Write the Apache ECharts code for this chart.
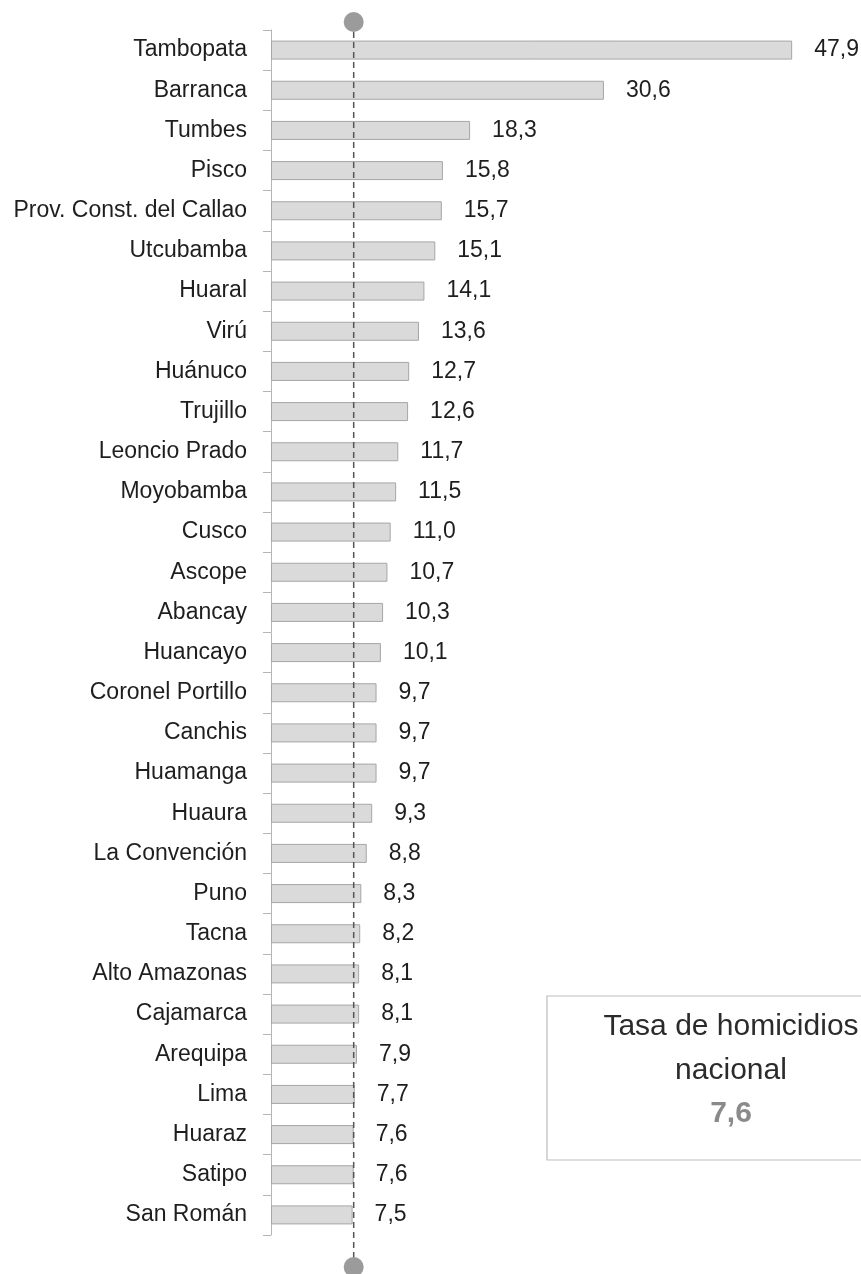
<!DOCTYPE html>
<html>
<head>
<meta charset="utf-8">
<script src="https://cdn.jsdelivr.net/npm/echarts@6/dist/echarts.min.js"></script>
<style>
  html, body { margin: 0; padding: 0; background: #fff; }
  #chart { width: 861px; height: 1274px; }
</style>
</head>
<body>
<div id="chart"></div>
<script>
// provincias, de arriba hacia abajo
const provincias = [
  'Tambopata', 'Barranca', 'Tumbes', 'Pisco', 'Prov. Const. del Callao',
  'Utcubamba', 'Huaral', 'Virú', 'Huánuco', 'Trujillo',
  'Leoncio Prado', 'Moyobamba', 'Cusco', 'Ascope', 'Abancay',
  'Huancayo', 'Coronel Portillo', 'Canchis', 'Huamanga', 'Huaura',
  'La Convención', 'Puno', 'Tacna', 'Alto Amazonas', 'Cajamarca',
  'Arequipa', 'Lima', 'Huaraz', 'Satipo', 'San Román'
]
const tasas = [
  47.9, 30.6, 18.3, 15.8, 15.7,
  15.1, 14.1, 13.6, 12.7, 12.6,
  11.7, 11.5, 11.0, 10.7, 10.3,
  10.1, 9.7, 9.7, 9.7, 9.3,
  8.8, 8.3, 8.2, 8.1, 8.1,
  7.9, 7.7, 7.6, 7.6, 7.5
]
const tasaNacional = 7.6
const tituloCaja = ['Tasa de homicidios', 'nacional']

const fmt = v => v.toFixed(1).replace('.', ',')
const fuente = '"Liberation Sans", Arial, sans-serif'

const chart = echarts.init(document.getElementById('chart'))

const option = {
  animation: false,
  grid: { left: 271, right: 46, top: 30, bottom: 39, outerBoundsMode: 'none', containLabel: false },
  xAxis: {
    type: 'value',
    min: 0,
    max: 50,
    show: false,
    splitLine: { show: false }
  },
  yAxis: {
    type: 'category',
    inverse: true,
    data: provincias,
    axisLine: { show: true, lineStyle: { color: '#b5b5b5', width: 1 } },
    axisTick: { show: true, length: 8, lineStyle: { color: '#b5b5b5' } },
    axisLabel: {
      margin: 24,
      color: '#1e1e1e',
      fontSize: 23,
      fontFamily: fuente
    }
  },
  series: [
    {
      type: 'bar',
      data: tasas,
      barWidth: 19,
      itemStyle: {
        color: '#dadada',
        borderColor: '#a6a6a6',
        borderWidth: 1
      },
      label: {
        show: true,
        position: 'right',
        distance: 22,
        color: '#1e1e1e',
        fontSize: 23,
        fontFamily: fuente,
        formatter: p => fmt(p.value)
      }
    }
  ]
}
chart.setOption(option)

// linea punteada de la tasa nacional (posicion via la escala del eje)
const xNac = chart.convertToPixel({ xAxisIndex: 0 }, tasaNacional)
const yTop = 22
const yBot = 1267

chart.setOption({
  graphic: [
    {
      type: 'line',
      shape: { x1: xNac, y1: yTop, x2: xNac, y2: yBot },
      style: { stroke: '#555', lineWidth: 1.5, lineDash: [6, 4] },
      z: 10
    },
    { type: 'circle', shape: { cx: xNac, cy: yTop, r: 10 }, style: { fill: '#9b9b9b' }, z: 11 },
    { type: 'circle', shape: { cx: xNac, cy: yBot, r: 10 }, style: { fill: '#9b9b9b' }, z: 11 },
    // caja con la tasa nacional
    {
      type: 'rect',
      shape: { x: 547, y: 996, width: 330, height: 164 },
      style: { fill: '#fff', stroke: '#bdbdbd', lineWidth: 1.2 }
    },
    {
      type: 'text',
      x: 731, y: 1027,
      style: {
        text: tituloCaja[0], fill: '#2b2b2b', font: '500 30px ' + fuente,
        align: 'center', verticalAlign: 'middle'
      }
    },
    {
      type: 'text',
      x: 731, y: 1071,
      style: {
        text: tituloCaja[1], fill: '#2b2b2b', font: '500 30px ' + fuente,
        align: 'center', verticalAlign: 'middle'
      }
    },
    {
      type: 'text',
      x: 731, y: 1114,
      style: {
        text: fmt(tasaNacional), fill: '#8a8a8a', font: 'bold 30px ' + fuente,
        align: 'center', verticalAlign: 'middle'
      }
    }
  ]
})
</script>
</body>
</html>
